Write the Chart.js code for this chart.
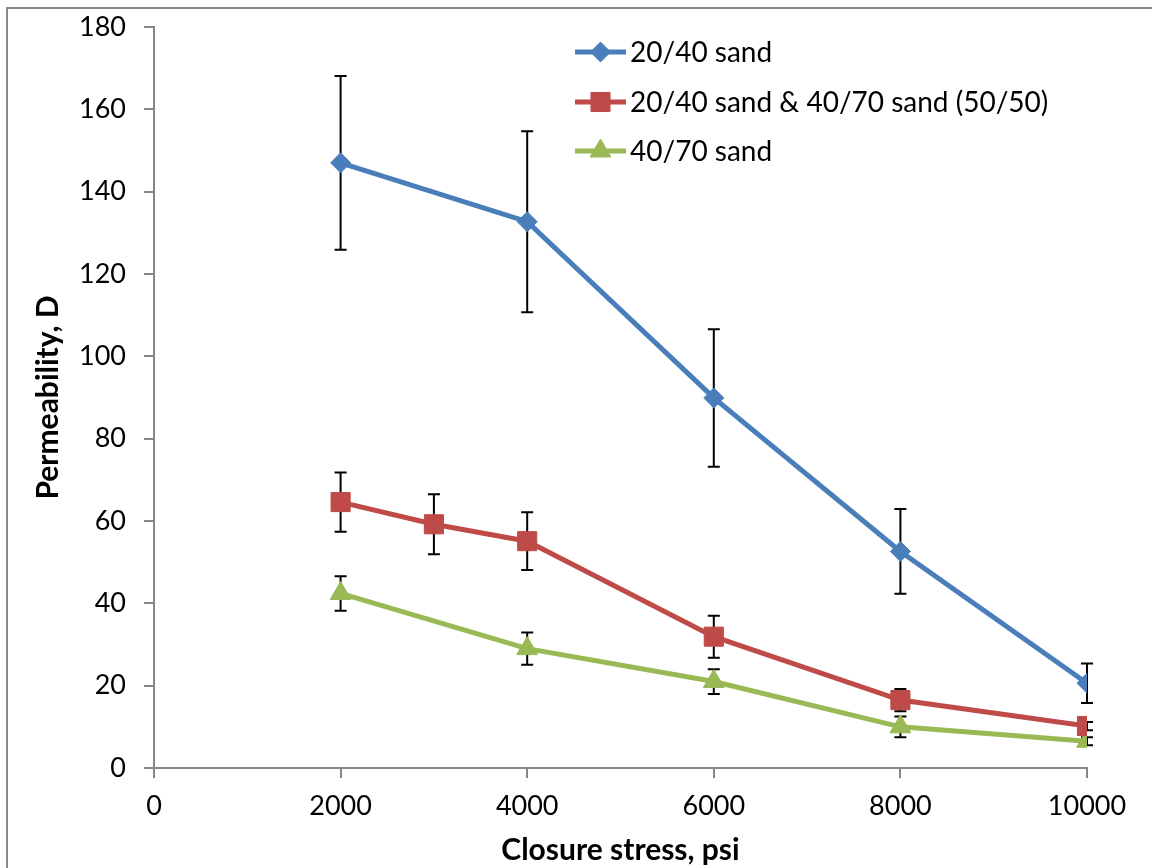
<!DOCTYPE html>
<html lang="en">
<head>
  <meta charset="UTF-8">
  <title>Permeability vs closure stress</title>
  <script src="https://cdn.jsdelivr.net/npm/chart.js@4/dist/chart.umd.min.js"></script>
  <style>
    body {
      margin: 0;
      background: #fff;
      overflow: hidden;
    }
    .wrap {
      position: relative;
      width: 1152px;
      height: 868px;
    }
    .frame {
      position: absolute;
      left: 6px;
      top: 7px;
      width: 2000px;
      height: 2000px;
      border-left: 2px solid #888;
      border-top: 2px solid #888;
    }
    canvas {
      position: absolute;
      left: 0;
      top: 0;
    }
  </style>
</head>
<body>
  <div class="wrap">
    <div class="frame"></div>
    <canvas id="chart" width="1152" height="868"></canvas>
  </div>

  <script>
// closure stress (psi), permeability (D) and error bar half-widths
const stress2040 = [2000, 4000, 6000, 8000, 10000];
const perm2040 = [147.0, 132.7, 89.9, 52.6, 20.6];
const err2040 = [21.1, 22.0, 16.7, 10.3, 4.8];

const stressMix = [2000, 3000, 4000, 6000, 8000, 10000];
const permMix = [64.6, 59.2, 55.1, 31.9, 16.5, 10.2];
const errMix = [7.2, 7.3, 7.0, 5.1, 2.7, 1.0];

const stress4070 = [2000, 4000, 6000, 8000, 10000];
const perm4070 = [42.4, 29.0, 21.0, 10.0, 6.5];
const err4070 = [4.2, 3.9, 3.0, 2.5, 1.0];

const seriesNames = ['20/40 sand', '20/40 sand & 40/70 sand (50/50)', '40/70 sand'];
const xTicks = [0, 2000, 4000, 6000, 8000, 10000];
const yTicks = [0, 20, 40, 60, 80, 100, 120, 140, 160, 180];

const FONT = 'Lato, "Open Sans", sans-serif';

function pts(xs, ys) {
  return xs.map((x, i) => ({ x: x, y: ys[i] }));
}

// vertical error bars with caps, drawn under the lines
const errorBars = {
  id: 'errorBars',
  beforeDatasetsDraw(chart) {
    const ctx = chart.ctx;
    const xs = chart.scales.x, ys = chart.scales.y;
    ctx.save();
    ctx.strokeStyle = '#000';
    ctx.lineWidth = 2;
    chart.data.datasets.forEach(ds => {
      ds.data.forEach((p, i) => {
        const e = ds.errors[i];
        const px = xs.getPixelForValue(p.x);
        const top = ys.getPixelForValue(p.y + e);
        const bot = ys.getPixelForValue(p.y - e);
        ctx.beginPath();
        ctx.moveTo(px, top); ctx.lineTo(px, bot);
        ctx.moveTo(px - 6, top); ctx.lineTo(px + 6, top);
        ctx.moveTo(px - 6, bot); ctx.lineTo(px + 6, bot);
        ctx.stroke();
      });
    });
    ctx.restore();
  }
};

// legend inside the plot, line + marker + label
const insideLegend = {
  id: 'insideLegend',
  afterDraw(chart) {
    const ctx = chart.ctx;
    const x0 = 575, x1 = 626, rows = [52, 102, 151];
    ctx.save();
    chart.data.datasets.forEach((ds, i) => {
      const y = rows[i];
      ctx.strokeStyle = ds.borderColor;
      ctx.lineWidth = ds.borderWidth;
      ctx.beginPath();
      ctx.moveTo(x0, y); ctx.lineTo(x1, y);
      ctx.stroke();
      ctx.fillStyle = ds.pointBackgroundColor;
      ctx.strokeStyle = ds.pointBackgroundColor;
      ctx.lineWidth = 1;
      Chart.helpers.drawPoint(ctx, { pointStyle: ds.pointStyle, radius: ds.pointRadius, borderWidth: 1 }, (x0 + x1) / 2, y);
      ctx.fillStyle = '#000';
      ctx.font = '28px ' + FONT;
      ctx.textBaseline = 'middle';
      ctx.fillText(ds.label, 630, y + 1);
    });
    ctx.restore();
  }
};

const blue = '#4A7EBB', red = '#BE4B48', green = '#98B954';

new Chart(document.getElementById('chart'), {
  type: 'line',
  data: {
    datasets: [
      {
        label: seriesNames[0], data: pts(stress2040, perm2040), errors: err2040,
        borderColor: blue, borderWidth: 5, pointStyle: 'rectRot', pointRadius: 10,
        pointBackgroundColor: blue, pointBorderColor: blue, pointBorderWidth: 1
      },
      {
        label: seriesNames[1], data: pts(stressMix, permMix), errors: errMix,
        borderColor: red, borderWidth: 5, pointStyle: 'rect', pointRadius: 13.5,
        pointBackgroundColor: red, pointBorderColor: red, pointBorderWidth: 1
      },
      {
        label: seriesNames[2], data: pts(stress4070, perm4070), errors: err4070,
        borderColor: green, borderWidth: 5, pointStyle: 'triangle', pointRadius: 12,
        pointBackgroundColor: green, pointBorderColor: green, pointBorderWidth: 1
      }
    ]
  },
  options: {
    responsive: false,
    animation: false,
    layout: { padding: { top: 27, right: 65, left: 0, bottom: 0 } },
    plugins: { legend: { display: false }, tooltip: { enabled: false } },
    elements: { line: { tension: 0 } },
    scales: {
      x: {
        type: 'linear', min: 0, max: 10000,
        afterFit(s) { s.height = 100; },
        afterBuildTicks(s) { s.ticks = xTicks.map(v => ({ value: v })); },
        border: { color: '#868686', width: 2 },
        grid: { drawOnChartArea: false, color: '#868686', lineWidth: 2, tickLength: 10 },
        ticks: { color: '#000', font: { family: FONT, size: 27 }, padding: 12, callback: v => String(v) },
        title: {
          display: true, text: 'Closure stress, psi', color: '#000',
          font: { family: FONT, size: 30, weight: 'bold' }, padding: { top: 0, bottom: 0 }
        }
      },
      y: {
        min: 0, max: 180,
        afterFit(s) {
          s.width = 154;
          // keep the tick padding from pushing the plot top down
          s.paddingTop = 0;
          s.paddingBottom = 0;
        },
        afterBuildTicks(s) { s.ticks = yTicks.map(v => ({ value: v })); },
        border: { color: '#868686', width: 2 },
        grid: { drawOnChartArea: false, color: '#868686', lineWidth: 2, tickLength: 10 },
        ticks: { color: '#000', font: { family: FONT, size: 27 }, padding: 18 },
        title: {
          display: true, text: 'Permeability, D', color: '#000',
          font: { family: FONT, size: 30, weight: 'bold' }, padding: { top: 30, bottom: 0 }
        }
      }
    }
  },
  plugins: [errorBars, insideLegend]
});
  </script>
</body>
</html>
